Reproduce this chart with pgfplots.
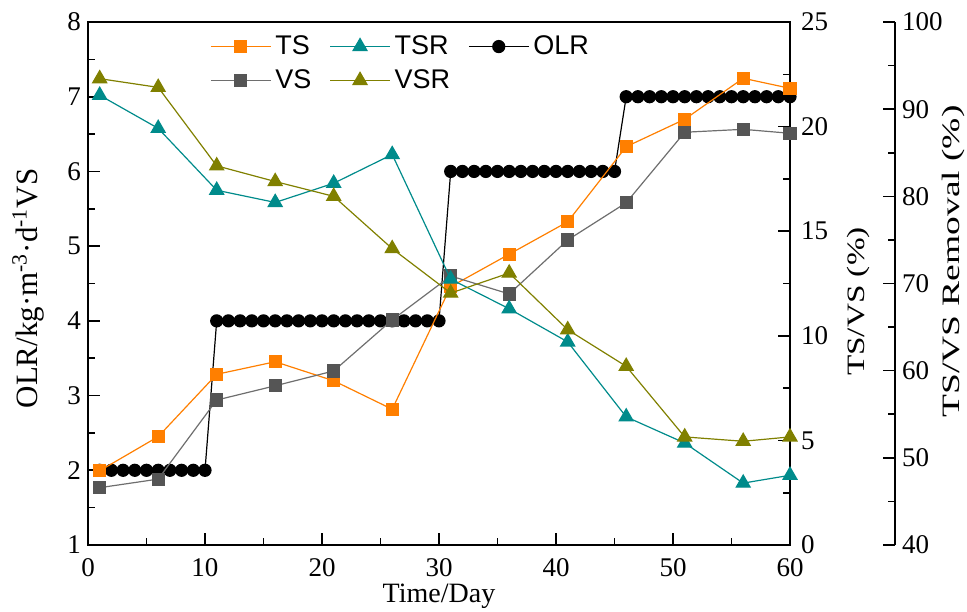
\documentclass[border=0pt]{standalone}
\usepackage{pgfplots}
\pgfplotsset{compat=1.18}
\usepackage{fontspec}
\usepackage{graphicx}
\setmainfont{Liberation Serif}
\newfontfamily\legendfont{Liberation Sans}
\definecolor{tsorange}{RGB}{255,127,0}
\definecolor{vsgray}{RGB}{85,85,85}
\definecolor{vsline}{RGB}{110,110,110}
\definecolor{tsrteal}{RGB}{0,139,139}
\definecolor{vsrolive}{RGB}{128,128,0}

\pgfplotstableread{
day TS VS TSR VSR
1  3.55 2.74 91.6 93.5
6  5.18 3.15 87.8 92.5
11 8.16 6.93 80.7 83.5
16 8.76 7.61 79.3 81.7
21 7.85 8.32 81.5 80.0
26 6.49 10.76 84.8 74.0
31 12.35 12.86 70.5 68.9
36 13.90 12.00 67.1 71.2
41 15.45 14.58 63.3 64.7
46 19.04 16.36 54.7 60.5
51 20.35 19.73 51.7 52.4
56 22.31 19.87 47.1 51.9
60 21.83 19.68 48.0 52.4
}\datatable

\pgfplotstableread{
day OLR
1 2
2 2
3 2
4 2
5 2
6 2
7 2
8 2
9 2
10 2
11 4
12 4
13 4
14 4
15 4
16 4
17 4
18 4
19 4
20 4
21 4
22 4
23 4
24 4
25 4
26 4
27 4
28 4
29 4
30 4
31 6
32 6
33 6
34 6
35 6
36 6
37 6
38 6
39 6
40 6
41 6
42 6
43 6
44 6
45 6
46 7
47 7
48 7
49 7
50 7
51 7
52 7
53 7
54 7
55 7
56 7
57 7
58 7
59 7
60 7
}\olrtable

\pgfplotsset{
  base/.style={
    width=351pt, height=261.5pt, scale only axis,
    xmin=0, xmax=60,
    /pgf/number format/assume math mode=true,
    tick label style={font=\fontsize{13.5}{15}\selectfont},
    major tick length=6pt, minor tick length=3.5pt,
    tick align=inside,
    axis line style={-, line width=1pt},
    every tick/.style={line width=0.8pt, black},
    every minor tick/.style={line width=0.8pt, black},
  },
  legend image code/.code={\draw[mark repeat=2,mark phase=2,#1] plot coordinates {(0pt,0pt) (15pt,0pt) (30pt,0pt)};},
}

\begin{document}
\begin{tikzpicture}
% OLR axis (left)
\begin{axis}[base, name=main,
  ymin=1, ymax=8, ytick={1,...,8}, minor y tick num=1,
  xtick={0,10,...,60}, minor x tick num=1,
  xtick pos=left, ytick pos=left,
  xticklabel style={yshift=-3pt},
  xlabel={Time/Day},
  ylabel={OLR/kg·m\textsuperscript{-3}·d\textsuperscript{-1}VS},
  xlabel style={at={([yshift=-25.5pt]axis description cs:0.5,0)}, anchor=center, font=\fontsize{14}{16}\selectfont},
  ylabel style={at={([xshift=-30pt,yshift=-2.5pt]axis description cs:0,0.5)}, anchor=center, font=\fontsize{15.5}{17}\selectfont},
  legend columns=3,
  legend cell align=left,
  legend style={draw=none, fill=none, at={(rel axis cs:0.165,0.99)}, anchor=north west,
    font=\legendfont\fontsize{13.5}{15}\selectfont, row sep=2pt,
    /tikz/every even column/.append style={column sep=7pt}},
]
\addlegendimage{tsorange, line width=0.6pt, mark=square*, mark size=3pt, mark options={solid}}
\addlegendentry{TS}
\addlegendimage{tsrteal, line width=0.6pt, mark=triangle*, mark size=4pt}
\addlegendentry{TSR}
\addlegendimage{black, line width=0.6pt, mark=*, mark size=3pt}
\addlegendentry{OLR}
\addlegendimage{vsline, line width=0.6pt, mark=square*, mark size=3pt, mark options={fill=vsgray, draw=vsgray}}
\addlegendentry{VS}
\addlegendimage{vsrolive, line width=0.6pt, mark=triangle*, mark size=4pt}
\addlegendentry{VSR}
\addplot[black, line width=0.6pt, mark=*, mark size=3pt, forget plot] table[x=day, y=OLR] {\olrtable};
\end{axis}

% TS/VS axis (inner right)
\begin{axis}[base,
  axis x line=none, axis y line*=right,
  ymin=0, ymax=25, ytick={0,5,...,25}, minor y tick num=1,
  yticklabel style={xshift=2pt},
  ylabel={\scalebox{1.33}[1]{TS/VS (\%)}},
  ylabel style={at={([xshift=34pt,yshift=-9pt]axis description cs:1,0.5)}, anchor=center, font=\fontsize{12.5}{14}\selectfont},
]
\addplot[tsorange, line width=0.6pt, mark=square*, mark size=3pt] table[x=day, y=TS] {\datatable};
\addplot[vsline, line width=0.6pt, mark=square*, mark size=3pt, mark options={fill=vsgray, draw=vsgray}] table[x=day, y=VS] {\datatable};
\end{axis}

% Removal data axis (hidden)
\begin{axis}[base, hide axis, ymin=40, ymax=100]
\addplot[tsrteal, line width=0.6pt, mark=triangle*, mark size=4pt] table[x=day, y=TSR] {\datatable};
\addplot[vsrolive, line width=0.6pt, mark=triangle*, mark size=4pt] table[x=day, y=VSR] {\datatable};
\end{axis}

% Removal spine (outer right)
\begin{axis}[base, width=403.5pt, xmin=0, xmax=1,
  axis x line=none, axis y line*=right,
  ymin=40, ymax=100, ytick={40,50,...,100}, minor y tick num=1,
  ylabel={\scalebox{1.5}[1]{TS/VS Removal (\%)}},
  ylabel style={at={([xshift=29pt,yshift=11pt]axis description cs:1,0.5)}, anchor=center, font=\fontsize{12.5}{14}\selectfont},
]
\end{axis}

\pgfresetboundingbox
\path[use as bounding box] (-44pt,-33pt) rectangle (439.5pt,272.5pt);
\end{tikzpicture}
\end{document}
